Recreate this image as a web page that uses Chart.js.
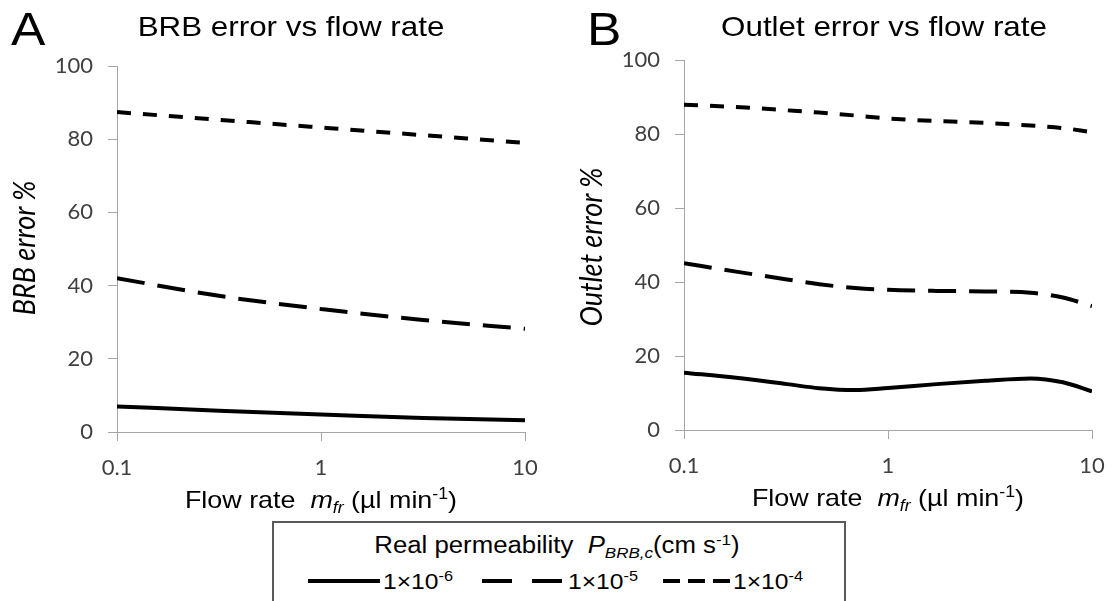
<!DOCTYPE html>
<html>
<head>
<meta charset="utf-8">
<script src="https://cdn.jsdelivr.net/npm/chart.js@4.4.1/dist/chart.umd.min.js"></script>
<style>
  html, body { margin:0; padding:0; background:#fff; }
  body { width:1118px; height:601px; overflow:hidden; position:relative; font-family:"Liberation Sans", Arial, sans-serif; color:#000; }
  .wrap { position:absolute; top:0; }
  .t { position:absolute; white-space:nowrap; line-height:1; }
  .c { transform-origin:center center; transform:translate(-50%,-50%) scaleX(1.12); }
  .l { transform-origin:left center; transform:translateY(-50%) scaleX(1.12); }
  .r { transform-origin:center center; transform:translate(-50%,-50%) rotate(-90deg) scaleY(1.12); font-family:Lato, sans-serif; font-style:italic; }
  sub, sup { font-size:0.66em; line-height:0; position:relative; vertical-align:baseline; }
  sub { top:0.3em; }
  sup { top:-0.55em; }
  #legend { position:absolute; left:272px; top:521px; width:574px; height:130px; box-sizing:border-box; border:2px solid #595959; }
  svg.sample { position:absolute; overflow:visible; }
</style>
</head>
<body>
<div class="wrap" style="left:0;width:559px;height:500px"><canvas id="chartA" width="559" height="500"></canvas></div>
<div class="wrap" style="left:559px;width:559px;height:500px"><canvas id="chartB" width="559" height="500"></canvas></div>

<div class="t l" style="left:11px;top:29px;font-size:46px">A</div>
<div class="t c" id="titleA" style="left:291px;top:27px;font-size:28px"></div>
<div class="t l" style="left:587px;top:29px;font-size:46px">B</div>
<div class="t c" id="titleB" style="left:884px;top:27px;font-size:28px"></div>

<div class="t r" id="yTitleA" style="left:23px;top:248px;font-size:27px"></div>
<div class="t r" id="yTitleB" style="left:590px;top:247px;font-size:27px"></div>

<div class="t c" id="xTitleA" style="left:321px;top:500px;font-size:24px"></div>
<div class="t c" id="xTitleB" style="left:888px;top:498px;font-size:24px"></div>

<div id="legend"></div>

<script>
// ---------- data ----------
const panelTitles = ['BRB error vs flow rate', 'Outlet error vs flow rate'];
const yAxisTitles = ['BRB error %', 'Outlet error %'];
const xTickValues = [0.1, 1, 10];
const xTickLabels = ['0.1', '1', '10'];
const yTickLabels = ['0', '20', '40', '60', '80', '100'];

// Panel A: BRB error (%) vs flow rate (µl/min)
const flowRatesA = [0.1, 0.316, 1, 3.16, 10];
const brbError_1e6 = [7.0, 5.8, 4.8, 3.8, 3.2];
const brbError_1e5 = [42.0, 37.2, 33.6, 30.6, 28.2];
const brbError_1e4 = [87.4, 85.3, 83.2, 81.1, 79.0];

// Panel B: Outlet error (%) vs flow rate (µl/min)
const flowRatesB = [0.1, 0.18, 0.32, 0.46, 0.69, 1, 1.73, 3, 5, 7.2, 10];
const outletError_1e6 = [15.5, 14.1, 12.4, 11.3, 10.8, 11.35, 12.4, 13.3, 13.95, 12.9, 10.45];
const outletError_1e5 = [45.1, 42.8, 40.7, 39.4, 38.4, 37.9, 37.6, 37.45, 37.1, 35.8, 33.5];
const outletError_1e4 = [87.9, 87.3, 86.4, 85.8, 85.0, 84.2, 83.5, 83.0, 82.3, 81.6, 80.5];

// Series (real permeability P_BRB,c in cm s^-1)
const seriesMantissa = ['1×10', '1×10', '1×10'];
const seriesExponent = ['-6', '-5', '-4'];

// ---------- styles ----------
const dashes = [[], [28, 13], [14, 12]];
const legendDashes = ['', '30 20', '17 8'];

// ---------- text ----------
document.getElementById('titleA').textContent = panelTitles[0];
document.getElementById('titleB').textContent = panelTitles[1];
document.getElementById('yTitleA').textContent = yAxisTitles[0];
document.getElementById('yTitleB').textContent = yAxisTitles[1];
const xTitleHTML = 'Flow rate&nbsp; <i>m</i><sub><i>fr</i></sub> (µl min<sup>-1</sup>)';
document.getElementById('xTitleA').innerHTML = xTitleHTML;
document.getElementById('xTitleB').innerHTML = xTitleHTML;

// ---------- legend ----------
const legend = document.getElementById('legend');
const lt = document.createElement('div');
lt.className = 't c';
lt.style.left = (557 - 272 - 2) + 'px';
lt.style.top = (545 - 521 - 2) + 'px';
lt.style.fontSize = '23px';
lt.innerHTML = 'Real permeability&nbsp; <i>P</i><sub><i>BRB,c</i></sub>(cm s<sup>-1</sup>)';
legend.appendChild(lt);
const sampleX = [[308, 380], [482, 562], [663, 730]];
const textX = [383, 568, 733];
const entryY = 582;
for (let i = 0; i < 3; i++) {
  const [x0, x1] = sampleX[i];
  const svg = document.createElementNS('http://www.w3.org/2000/svg', 'svg');
  svg.setAttribute('class', 'sample');
  svg.setAttribute('width', x1 - x0);
  svg.setAttribute('height', 8);
  svg.style.left = (x0 - 272 - 2) + 'px';
  svg.style.top = (entryY - 1 - 4 - 521 - 2) + 'px';
  const ln = document.createElementNS('http://www.w3.org/2000/svg', 'line');
  ln.setAttribute('x1', 0); ln.setAttribute('x2', x1 - x0);
  ln.setAttribute('y1', 4); ln.setAttribute('y2', 4);
  ln.setAttribute('stroke', '#000'); ln.setAttribute('stroke-width', 4);
  if (legendDashes[i]) ln.setAttribute('stroke-dasharray', legendDashes[i]);
  svg.appendChild(ln);
  legend.appendChild(svg);
  const tx = document.createElement('div');
  tx.className = 't l';
  tx.style.left = (textX[i] - 272 - 2) + 'px';
  tx.style.top = (entryY - 521 - 2) + 'px';
  tx.style.fontSize = '22px';
  tx.innerHTML = seriesMantissa[i] + '<sup>' + seriesExponent[i] + '</sup>';
  legend.appendChild(tx);
}

// ---------- charts ----------
function makeChart(id, xs, series, pad, yWidth, xHeight) {
  const tickFont = { family: 'Lato', size: 22 };
  const gridCfg = { display: true, drawOnChartArea: false, drawTicks: true, tickLength: 9, color: '#a6a6a6', lineWidth: 1 };
  const borderCfg = { display: true, color: '#a6a6a6', width: 1 };
  return new Chart(document.getElementById(id), {
    type: 'line',
    data: {
      datasets: series.map((s, i) => ({
        label: seriesMantissa[i] + seriesExponent[i],
        data: xs.map((x, j) => ({ x: x, y: s[j] })),
        borderColor: '#000',
        borderWidth: 4,
        borderDash: dashes[i],
        borderCapStyle: 'butt',
        pointRadius: 0,
        fill: false,
        cubicInterpolationMode: 'monotone'
      }))
    },
    options: {
      responsive: false,
      animation: false,
      devicePixelRatio: 1,
      layout: { padding: pad },
      plugins: { legend: { display: false }, title: { display: false }, tooltip: { enabled: false } },
      scales: {
        x: {
          type: 'logarithmic',
          min: 0.1, max: 10,
          afterBuildTicks: s => { s.ticks = xTickValues.map(v => ({ value: v })); },
          afterFit: s => { s.height = xHeight; s.paddingLeft = 0; s.paddingRight = 0; },
          ticks: { callback: (v, i) => xTickLabels[i], font: tickFont, color: '#404040', padding: 14, autoSkip: false, maxRotation: 0 },
          grid: gridCfg, border: borderCfg
        },
        y: {
          type: 'linear',
          min: 0, max: 100,
          afterBuildTicks: s => { s.ticks = yTickLabels.map(v => ({ value: Number(v) })); },
          afterFit: s => { s.width = yWidth; s.paddingTop = 0; s.paddingBottom = 0; },
          ticks: { callback: (v, i) => yTickLabels[i], font: tickFont, color: '#404040', padding: 15 },
          grid: gridCfg, border: borderCfg
        }
      }
    }
  });
}

makeChart('chartA', flowRatesA, [brbError_1e6, brbError_1e5, brbError_1e4],
  { left: 0, top: 66, right: 34, bottom: 0 }, 117, 68);
makeChart('chartB', flowRatesB, [outletError_1e6, outletError_1e5, outletError_1e4],
  { left: 0, top: 60, right: 26, bottom: 0 }, 125, 70);
</script>
</body>
</html>
